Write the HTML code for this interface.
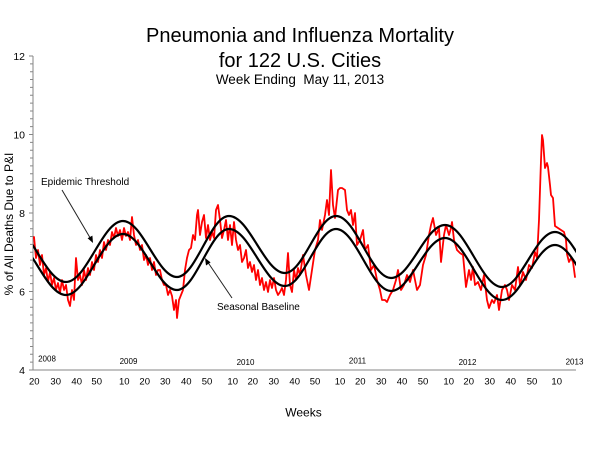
<!DOCTYPE html>
<html>
<head>
<meta charset="utf-8">
<style>
html,body{margin:0;padding:0;background:#fff;}
svg{display:block;}
text{font-family:"Liberation Sans",Arial,sans-serif;fill:#000;}
</style>
</head>
<body>
<svg width="600" height="450" viewBox="0 0 600 450" xmlns="http://www.w3.org/2000/svg">
<rect x="0" y="0" width="600" height="450" fill="#fff"/>
<defs>
<clipPath id="pc"><rect x="33" y="40" width="543" height="330"/></clipPath>
</defs>

<!-- Titles -->
<text x="300" y="42" font-size="20" text-anchor="middle">Pneumonia and Influenza Mortality</text>
<text x="300" y="67" font-size="20" text-anchor="middle">for 122 U.S. Cities</text>
<text x="300" y="84" font-size="13.5" text-anchor="middle">Week Ending&#160; May 11, 2013</text>

<!-- Axes -->
<g stroke="#868686" stroke-width="1" fill="none">
<path d="M33 56V370.5M32.5 370H576"/>
<path d="M29 370H33M30 362.15H33M30 354.3H33M30 346.45H33M30 338.6H33M30 330.75H33M30 322.9H33M30 315.05H33M30 307.2H33M30 299.35H33M29 291.5H33M30 283.65H33M30 275.8H33M30 267.95H33M30 260.1H33M30 252.25H33M30 244.4H33M30 236.55H33M30 228.7H33M30 220.85H33M29 213H33M30 205.15H33M30 197.3H33M30 189.45H33M30 181.6H33M30 173.75H33M30 165.9H33M30 158.05H33M30 150.2H33M30 142.35H33M29 134.5H33M30 126.65H33M30 118.8H33M30 110.95H33M30 103.1H33M30 95.25H33M30 87.4H33M30 79.55H33M30 71.7H33M30 63.85H33M29 56H33"/>
</g>

<!-- Y tick labels -->
<g font-size="10.5" text-anchor="end">
<text x="25" y="59.8">12</text>
<text x="25" y="138.3">10</text>
<text x="25" y="216.8">8</text>
<text x="25" y="295.3">6</text>
<text x="25" y="373.8">4</text>
</g>

<!-- Y axis title -->
<text transform="translate(13,224) rotate(-90)" font-size="12" text-anchor="middle">% of All Deaths Due to P&amp;I</text>

<!-- X tick labels -->
<g font-size="9.5" text-anchor="middle">
<text x="34.3" y="384.5">20</text>
<text x="55.7" y="384.5">30</text>
<text x="76.7" y="384.5">40</text>
<text x="96.7" y="384.5">50</text>
<text x="124.3" y="384.5">10</text>
<text x="144.7" y="384.5">20</text>
<text x="165.3" y="384.5">30</text>
<text x="186.3" y="384.5">40</text>
<text x="207" y="384.5">50</text>
<text x="232.7" y="384.5">10</text>
<text x="252.8" y="384.5">20</text>
<text x="273.8" y="384.5">30</text>
<text x="294.7" y="384.5">40</text>
<text x="315" y="384.5">50</text>
<text x="340" y="384.5">10</text>
<text x="360.3" y="384.5">20</text>
<text x="381.3" y="384.5">30</text>
<text x="402" y="384.5">40</text>
<text x="423" y="384.5">50</text>
<text x="448.7" y="384.5">10</text>
<text x="468.7" y="384.5">20</text>
<text x="489.7" y="384.5">30</text>
<text x="510.8" y="384.5">40</text>
<text x="532" y="384.5">50</text>
<text x="556.7" y="384.5">10</text>
</g>

<!-- Year labels -->
<g font-size="8" text-anchor="middle">
<text x="47" y="361.5">2008</text>
<text x="128.5" y="364">2009</text>
<text x="245.5" y="365">2010</text>
<text x="357.5" y="363.5">2011</text>
<text x="467.5" y="365">2012</text>
<text x="574.5" y="364.5">2013</text>
</g>

<text x="303.5" y="416.7" font-size="12" text-anchor="middle">Weeks</text>

<!-- Data -->
<g clip-path="url(#pc)" fill="none" stroke-linejoin="round" stroke-linecap="round">
<polyline stroke="#ff0000" stroke-width="1.8" points="
33.5,238 34,237 36,258 38,250 40,265 42,255 44,275 46,268 48,282 50,272 52,285 54,278 56,290 58,283 60,293 62,280 64,290 66,285 68,300 70,306 72,290 74,300 76,258 78,280 80,275 82,285 84,270 86,280 88,268 90,275 92,262 94,270 96,255 98,262 100,250 102,258 104,242 106,250 108,240 110,245 112,232 114,238 116,228 118,236 120,230 122,240 124,228 126,236 128,232 130,240 132,217 134,235 136,245 138,240 140,250 142,245 144,260 146,255 148,265 150,258 152,270 154,262 156,275 158,270 160,270 162,280 164,285
166,285 168,295 170,290 172,296 174,310 176,300 177,318 179,300 181,295 183,290 185,270 187,258 189,250 191,248 193,235 195,240 197,215 198,210 200,235 202,222 204,215 206,238 208,225 210,240 212,232 214,238 216,210 218,205 220,220 222,238 224,230 226,220 228,240 230,225 232,245 234,222 236,240 238,250 240,245 242,262 244,258 246,250 248,268 250,262 252,272 254,265 256,280 258,270 260,285 262,278 264,290 266,282 268,292 270,280 272,288 274,278 276,290 278,295 280,292 282,288 284,295 286,280 288,253 290,285 292,292 294,270 296,280 298,268 300,275
303,255 306,275 309,290 312,270 315,250 318,240 320,220 322,230 325,215 327,200 329,215 331,170 333,205 335,218 338,190 340,188 342,188 345,190 347,210 349,215 351,210 353,225 355,213 357,245 360,240 363,230 365,250 368,245 371,270 374,265 377,280 380,290 382,300 385,300 387,302 390,295 393,290 396,280 398,270 401,290 404,285 407,275 410,282 413,270 417,290 420,285 423,265 426,255 429,235 431,225
433,218 436,235 439,228 441,262 444,235 446,225 449,235 451,228 452,222 454,240 457,250 460,253 463,255 466,287 469,270 471,280 473,267 475,285 478,282 481,290 484,275 487,300 489,308 492,300 494,303 497,295 499,310 502,290 505,285 507,290 509,300 512,285 515,290 518,267 520,285 523,272 526,280 529,265 532,268 535,252 537,258 539,220 541,160 542,135 543,140 545,168 547,163 548,167 550,185 551,195 553,198 555,226 558,228 561,230 564,232 566,240 567,254 569,262 571,258 573,262 575,277"/>
<path id="thr" stroke="#000" stroke-width="2.2" d="M8 222C29.08 222 44.92 282 66 282C86.71 282 102.29 221 123 221C142.62 221 157.38 277 177 277C195.9 277 210.1 216 229 216C249.35 216 264.65 273 285 273C303.53 273 317.47 216 336 216C355.99 216 371.01 278 391 278C410.62 278 425.38 225 445 225C465.71 225 481.29 287 502 287C521.26 287 535.74 232 555 232C574.62 232 589.38 290 609 290"/>
<path transform="translate(0,13)" stroke="#000" stroke-width="2.2" d="M8 222C29.08 222 44.92 282 66 282C86.71 282 102.29 221 123 221C142.62 221 157.38 277 177 277C195.9 277 210.1 216 229 216C249.35 216 264.65 273 285 273C303.53 273 317.47 216 336 216C355.99 216 371.01 278 391 278C410.62 278 425.38 225 445 225C465.71 225 481.29 287 502 287C521.26 287 535.74 232 555 232C574.62 232 589.38 290 609 290"/>
</g>

<!-- Annotations -->
<text x="41" y="185" font-size="10">Epidemic Threshold</text>
<line x1="62" y1="190" x2="90.5" y2="238.5" stroke="#222" stroke-width="1"/>
<polygon points="93,243 87.6,238.2 92.4,235.6" fill="#000"/>

<text x="217" y="310" font-size="10">Seasonal Baseline</text>
<line x1="232" y1="298" x2="208" y2="262.5" stroke="#222" stroke-width="1"/>
<polygon points="205,258 210.6,262.4 206,265.5" fill="#000"/>
</svg>
</body>
</html>
